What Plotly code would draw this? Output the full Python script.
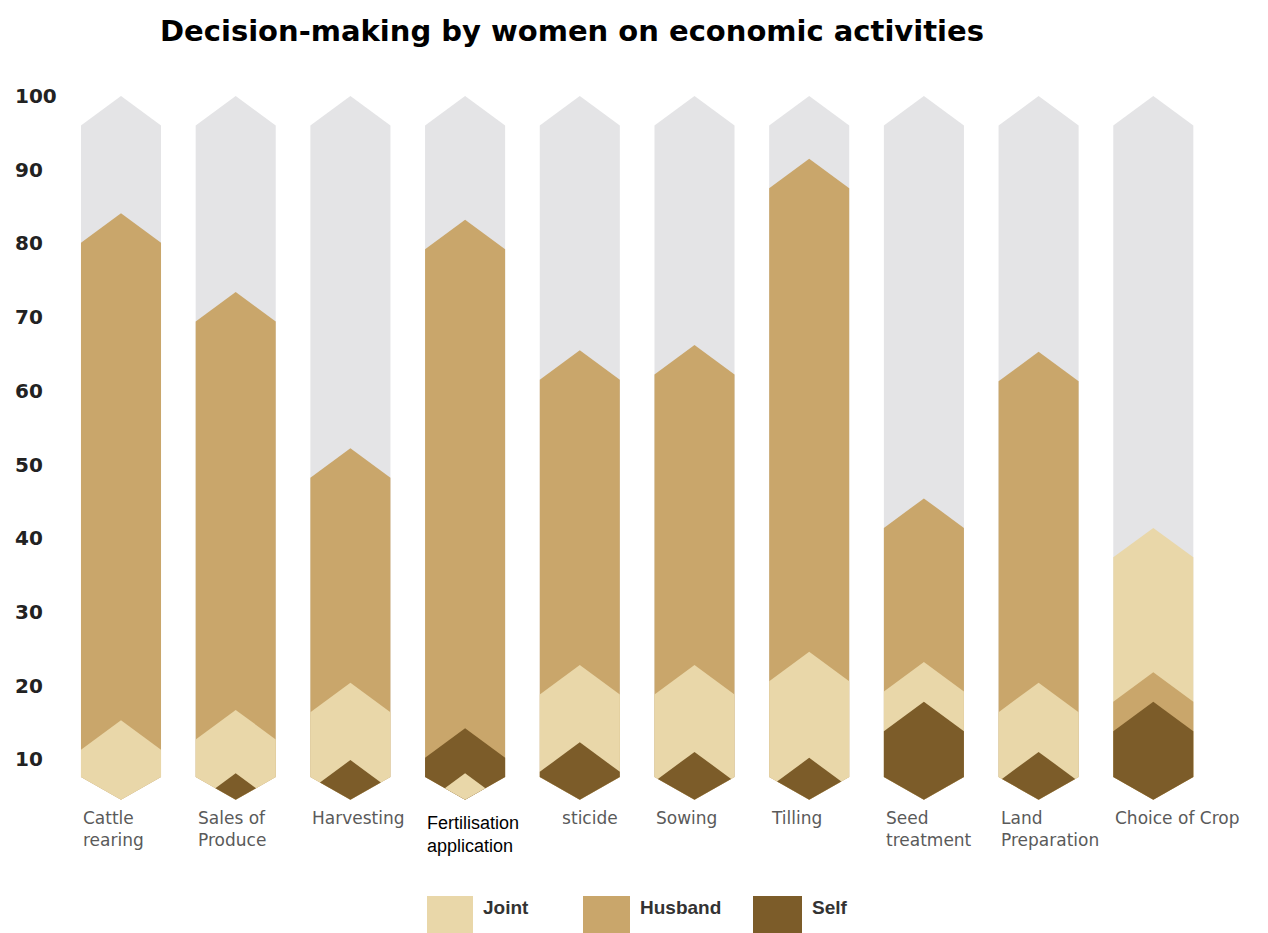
import plotly.graph_objects as go

# ---------------- data ----------------
categories = ["Cattle rearing", "Sales of Produce", "Harvesting", "Fertilisation application",
              "Pesticide", "Sowing", "Tilling", "Seed treatment", "Land Preparation", "Choice of Crop"]
category_labels = ["Cattle<br>rearing", "Sales of<br>Produce", "Harvesting", "Fertilisation<br>application",
                   "Pesticide", "Sowing", "Tilling", "Seed<br>treatment", "Land<br>Preparation", "Choice of Crop"]
series_names = ["Joint", "Husband", "Self"]

# level (arrow tip) reached by each layer, read against the y axis
joint_level = [15.3, 16.7, 20.4, 8.1, 22.8, 22.8, 24.6, 23.2, 20.4, 41.4]
husband_level = [84.1, 73.4, 52.2, 83.2, 65.5, 66.2, 91.5, 45.4, 65.3, 21.8]
self_level = [None, 8.1, 9.9, 14.2, 12.3, 11.0, 10.2, 17.8, 11.0, 17.8]
total_level = [100, 100, 100, 100, 100, 100, 100, 100, 100, 100]

y_ticks = [10, 20, 30, 40, 50, 60, 70, 80, 90, 100]

# ---------------- style ----------------
colors = {"Joint": "#e9d7a9", "Husband": "#c9a66b", "Self": "#7c5c29", "Total": "#e4e4e6"}
HALF_W = 0.349      # half bar width (category units)
PEAK_H = 4.0        # height of chevron point (value units)
TIP = 4.5           # lowest point of the bottom V
BASE = 7.6          # shoulders of the bottom V

OFF = 8             # page body margin
W, H = 1260, 925
M_T, M_B = 52, 73
X0_PX, STEP_PX = 121.0 - OFF, 114.7
Y100_PX = 96 - OFF
PX_PER_UNIT = 7.37


def arrow_polygon(c, peak):
    s = peak - PEAK_H
    if s >= BASE:
        xs = [c - HALF_W, c, c + HALF_W, c + HALF_W, c, c - HALF_W, c - HALF_W]
        ys = [BASE, TIP, BASE, s, peak, s, BASE]
    else:
        d = (peak - TIP) / (PEAK_H + BASE - TIP)
        ym = TIP + (BASE - TIP) * d
        xs = [c - d * HALF_W, c, c + d * HALF_W, c, c - d * HALF_W]
        ys = [ym, TIP, ym, peak, ym]
    return xs, ys


fig = go.Figure()
for i, cat in enumerate(categories):
    layers = [("Total", total_level[i])]
    rest = [(n, v) for n, v in zip(series_names, [joint_level[i], husband_level[i], self_level[i]]) if v is not None]
    rest.sort(key=lambda t: -t[1])
    layers += rest
    for name, lvl in layers:
        xs, ys = arrow_polygon(i, lvl)
        fig.add_trace(go.Scatter(
            x=xs, y=ys, mode="lines", fill="toself",
            fillcolor=colors[name], line=dict(width=0, color=colors[name]),
            name=name, legendgroup=name, showlegend=False,
            hoverinfo="text", text=f"{cat}: {name} {lvl}"))

annotations = []
# y tick labels (left aligned as in the reference)
x_left_tick = (13 - OFF - X0_PX) / STEP_PX
for t in y_ticks:
    annotations.append(dict(x=x_left_tick, y=t, xref="x", yref="y", text=str(t),
                            showarrow=False, xanchor="left", yanchor="middle",
                            font=dict(family="DejaVu Sans", size=20, color="#222222", weight="bold")))

# category labels
for i, lab in enumerate(category_labels):
    if categories[i].startswith("Fertilisation"):
        continue
    annotations.append(dict(x=i - HALF_W, y=3.6, xref="x", yref="y", text=lab,
                            showarrow=False, xanchor="left", yanchor="top", align="left",
                            font=dict(family="DejaVu Sans", size=17, color="#5a5a5a")))
# pasted-over label (white box hides the start of the neighbouring label)
fi = [c.startswith("Fertilisation") for c in categories].index(True)
PAD = 6
annotations.append(dict(x=fi - HALF_W - (PAD - 1) / STEP_PX, y=3.0 + (PAD - 1) / PX_PER_UNIT,
                        xref="x", yref="y", text=category_labels[fi],
                        showarrow=False, xanchor="left", yanchor="top", align="left",
                        width=129, bgcolor="white", borderpad=PAD,
                        font=dict(family="Liberation Sans", size=18, color="#000000")))


# custom legend (positions in page pixels)
def px_x(X):
    return (X - OFF) / W


def px_y(Y):
    return (H - M_B - (Y - OFF)) / (H - M_T - M_B)


shapes = []
legend_px = {"Joint": (427, 473), "Husband": (583, 630), "Self": (753, 802)}
for name in series_names:
    a, b = legend_px[name]
    shapes.append(dict(type="rect", xref="paper", yref="paper", x0=px_x(a), x1=px_x(b),
                       y0=px_y(945), y1=px_y(896), fillcolor=colors[name], line=dict(width=0)))
    annotations.append(dict(x=px_x(b + 8), y=px_y(907), xref="paper", yref="paper", text=name,
                            showarrow=False, xanchor="left", yanchor="middle",
                            font=dict(family="Liberation Sans", size=19, color="#333333", weight="bold")))

fig.update_layout(
    width=W, height=H,
    margin=dict(l=0, r=0, t=M_T, b=M_B),
    paper_bgcolor="white", plot_bgcolor="white",
    showlegend=False,
    title=dict(text="Decision-making by women on economic activities",
               x=(572 - OFF) / W, xanchor="center", y=1 - (31 - OFF) / H, yanchor="middle",
               font=dict(family="DejaVu Sans", size=29, color="#000000", weight="bold")),
    xaxis=dict(range=[-X0_PX / STEP_PX, (W - X0_PX) / STEP_PX], visible=False, fixedrange=True),
    yaxis=dict(range=[100 - (H - M_B - Y100_PX) / PX_PER_UNIT, 100 + (Y100_PX - M_T) / PX_PER_UNIT],
               visible=False, fixedrange=True),
    annotations=annotations,
    shapes=shapes,
)

fig.write_html("out.html")
